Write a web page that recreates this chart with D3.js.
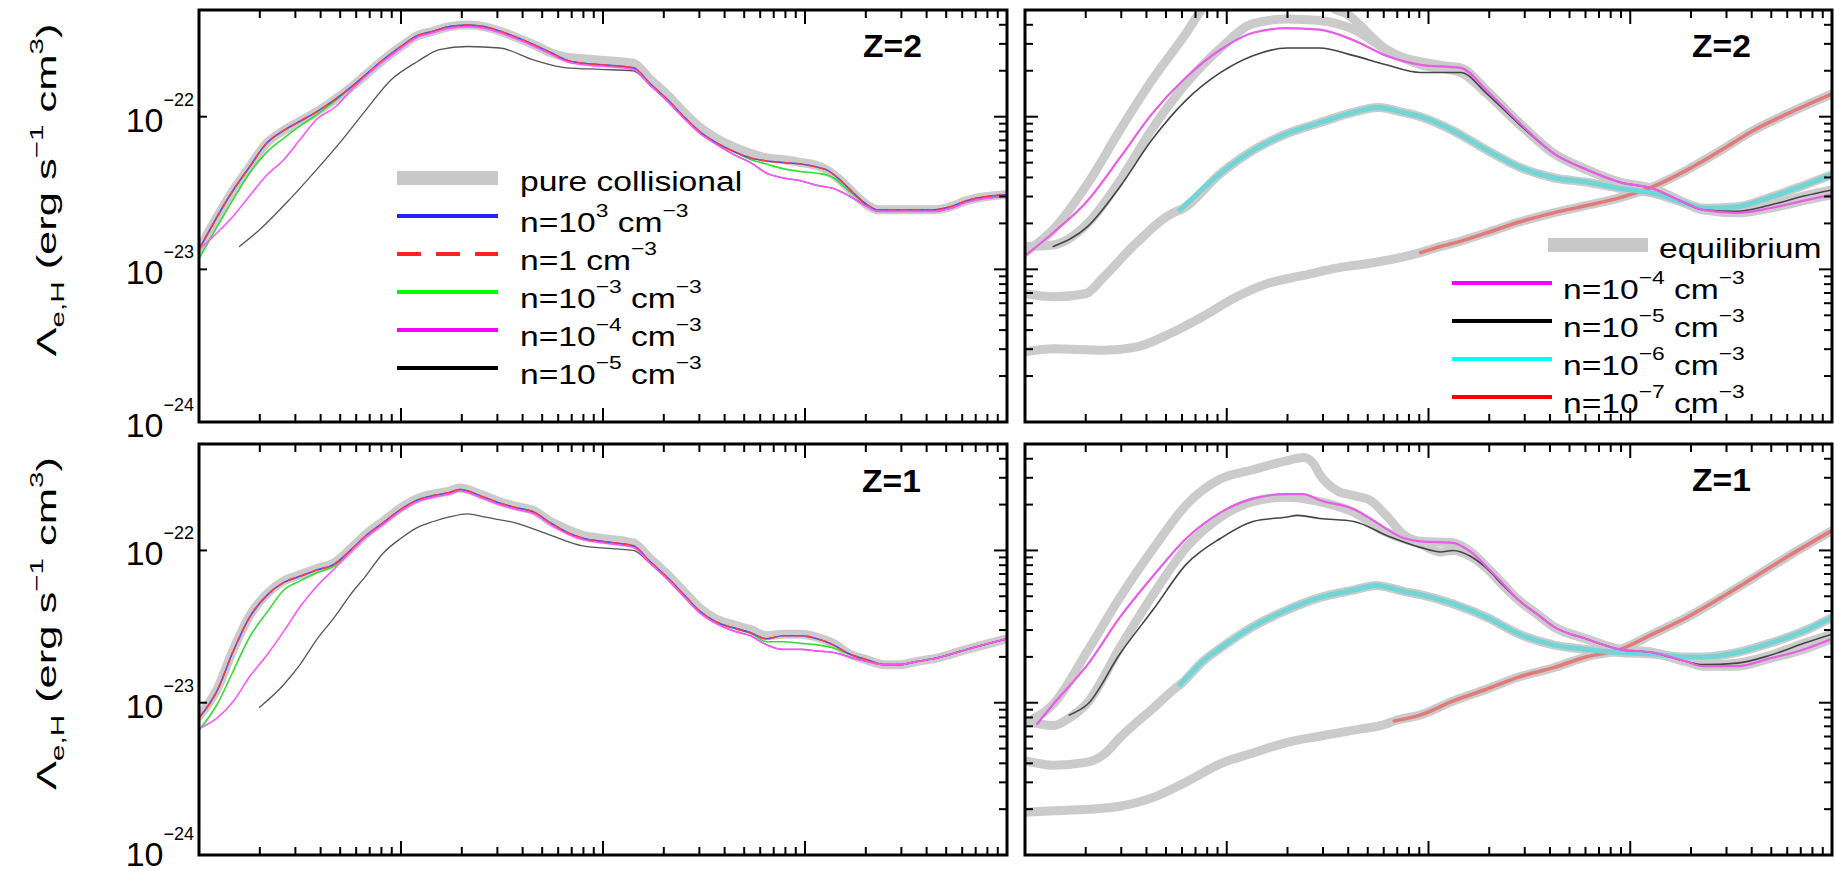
<!DOCTYPE html>
<html><head><meta charset="utf-8">
<script src="https://cdn.jsdelivr.net/npm/d3@7"></script>
<style>
body{margin:0;background:#fff}
svg{display:block}
text{font-family:"Liberation Sans",Arial,Helvetica,sans-serif;fill:#000;white-space:pre}
</style>
</head><body>
<svg id="c" width="1835" height="872"></svg>
<script>
// ---------------- DATA: [log10 T, log10 Lambda] ----------------
const X_DOMAIN = [1e4, 1e8];
const Y_DOMAIN = [1e-24, 5e-22];
const Y_TICK_LABELS = [-22, -23, -24];

// Z=2, left panel
const L2_pure = [[4.00,-22.87],[4.17,-22.48],[4.25,-22.33],[4.33,-22.18],[4.42,-22.09],[4.50,-22.03],[4.58,-21.97],[4.66,-21.90],[4.75,-21.81],[4.83,-21.72],[4.91,-21.63],[5.00,-21.54],[5.08,-21.47],[5.16,-21.44],[5.24,-21.41],[5.33,-21.40],[5.41,-21.41],[5.49,-21.44],[5.57,-21.48],[5.66,-21.53],[5.74,-21.58],[5.82,-21.61],[5.90,-21.62],[5.99,-21.63],[6.15,-21.65],[6.23,-21.75],[6.32,-21.86],[6.40,-21.97],[6.48,-22.07],[6.56,-22.14],[6.65,-22.20],[6.73,-22.24],[6.81,-22.27],[6.89,-22.28],[6.98,-22.30],[7.06,-22.32],[7.11,-22.35],[7.17,-22.41],[7.24,-22.50],[7.31,-22.58],[7.36,-22.61],[7.47,-22.61],[7.64,-22.61],[7.72,-22.59],[7.80,-22.55],[8.00,-22.51]];
const L2_n1e3 = [[4.00,-22.87],[4.17,-22.48],[4.25,-22.33],[4.33,-22.18],[4.42,-22.09],[4.50,-22.03],[4.58,-21.97],[4.66,-21.90],[4.75,-21.81],[4.83,-21.72],[4.91,-21.63],[5.00,-21.54],[5.08,-21.47],[5.16,-21.44],[5.24,-21.41],[5.33,-21.40],[5.41,-21.41],[5.49,-21.44],[5.57,-21.48],[5.66,-21.53],[5.74,-21.58],[5.82,-21.63],[5.90,-21.65],[5.99,-21.66],[6.15,-21.68],[6.23,-21.78],[6.32,-21.89],[6.40,-22.00],[6.48,-22.10],[6.56,-22.17],[6.65,-22.23],[6.73,-22.27],[6.81,-22.29],[6.89,-22.30],[6.98,-22.31],[7.06,-22.33],[7.11,-22.35],[7.17,-22.41],[7.24,-22.50],[7.31,-22.58],[7.36,-22.61],[7.47,-22.61],[7.64,-22.61],[7.72,-22.59],[7.80,-22.55],[8.00,-22.51]];
const L2_n1 = L2_n1e3;
const L2_n1em3 = [[4.00,-22.93],[4.17,-22.54],[4.25,-22.37],[4.33,-22.24],[4.42,-22.14],[4.50,-22.06],[4.58,-21.99],[4.66,-21.91],[4.75,-21.81],[4.83,-21.72],[4.91,-21.63],[5.00,-21.54],[5.08,-21.47],[5.16,-21.44],[5.24,-21.41],[5.33,-21.40],[5.41,-21.41],[5.49,-21.44],[5.57,-21.48],[5.66,-21.53],[5.74,-21.58],[5.82,-21.63],[5.90,-21.65],[5.99,-21.66],[6.15,-21.68],[6.23,-21.78],[6.32,-21.89],[6.40,-22.00],[6.48,-22.10],[6.56,-22.17],[6.65,-22.23],[6.73,-22.28],[6.81,-22.31],[6.89,-22.34],[6.98,-22.36],[7.06,-22.37],[7.14,-22.40],[7.22,-22.49],[7.31,-22.58],[7.36,-22.61],[7.47,-22.61],[7.64,-22.61],[7.72,-22.59],[7.80,-22.55],[8.00,-22.51]];
const L2_n1em4 = [[4.00,-22.87],[4.09,-22.76],[4.17,-22.65],[4.25,-22.52],[4.33,-22.39],[4.42,-22.28],[4.50,-22.15],[4.58,-22.02],[4.68,-21.93],[4.75,-21.83],[4.83,-21.73],[4.91,-21.64],[5.00,-21.55],[5.08,-21.48],[5.16,-21.45],[5.24,-21.42],[5.33,-21.41],[5.41,-21.42],[5.49,-21.45],[5.57,-21.49],[5.66,-21.54],[5.74,-21.59],[5.82,-21.64],[5.90,-21.66],[5.99,-21.67],[6.15,-21.69],[6.23,-21.79],[6.32,-21.90],[6.40,-22.01],[6.48,-22.11],[6.56,-22.18],[6.65,-22.25],[6.73,-22.30],[6.81,-22.37],[6.89,-22.40],[6.98,-22.42],[7.06,-22.45],[7.14,-22.47],[7.22,-22.52],[7.31,-22.59],[7.36,-22.62],[7.47,-22.62],[7.64,-22.62],[7.72,-22.60],[7.80,-22.56],[8.00,-22.52]];
const L2_n1em5 = [[4.20,-22.85],[4.30,-22.74],[4.45,-22.54],[4.58,-22.35],[4.71,-22.15],[4.83,-21.95],[4.95,-21.76],[5.08,-21.64],[5.19,-21.56],[5.33,-21.54],[5.49,-21.55],[5.66,-21.63],[5.82,-21.68],[5.99,-21.69],[6.15,-21.70],[6.23,-21.79],[6.32,-21.90],[6.40,-22.01],[6.48,-22.11],[6.56,-22.18],[6.65,-22.25],[6.73,-22.30],[6.81,-22.37],[6.89,-22.40],[6.98,-22.42],[7.06,-22.45],[7.14,-22.47],[7.22,-22.52],[7.31,-22.59],[7.36,-22.62],[7.47,-22.62],[7.64,-22.62],[7.72,-22.60],[7.80,-22.56],[8.00,-22.52]];

// Z=2, right panel
const R2_n1em4 = [[4.00,-22.91],[4.14,-22.76],[4.31,-22.55],[4.47,-22.27],[4.63,-21.98],[4.80,-21.74],[4.97,-21.56],[5.13,-21.45],[5.30,-21.42],[5.46,-21.43],[5.63,-21.50],[5.79,-21.60],[5.96,-21.66],[6.16,-21.68],[6.29,-21.83],[6.45,-22.04],[6.62,-22.24],[6.79,-22.35],[6.95,-22.43],[7.11,-22.47],[7.28,-22.57],[7.36,-22.61],[7.53,-22.63],[7.69,-22.60],[7.86,-22.55],[8.00,-22.51]];
const R2_n1em5 = [[4.14,-22.85],[4.31,-22.72],[4.47,-22.46],[4.63,-22.15],[4.80,-21.89],[4.97,-21.71],[5.13,-21.60],[5.30,-21.55],[5.46,-21.55],[5.63,-21.60],[5.79,-21.66],[5.96,-21.71],[6.16,-21.71],[6.29,-21.85],[6.45,-22.05],[6.62,-22.24],[6.79,-22.35],[6.95,-22.43],[7.11,-22.47],[7.28,-22.57],[7.36,-22.61],[7.53,-22.62],[7.69,-22.58],[7.86,-22.52],[8.00,-22.48]];
const R2_n1em6 = [[4.77,-22.61],[4.97,-22.37],[5.13,-22.22],[5.30,-22.11],[5.46,-22.04],[5.63,-21.97],[5.75,-21.94],[5.87,-21.97],[5.96,-22.00],[6.12,-22.09],[6.29,-22.22],[6.45,-22.33],[6.62,-22.40],[6.79,-22.43],[6.95,-22.47],[7.11,-22.50],[7.28,-22.57],[7.36,-22.60],[7.53,-22.59],[7.69,-22.53],[7.86,-22.45],[8.00,-22.38]];
const R2_n1em7 = [[5.96,-22.89],[6.06,-22.85],[6.12,-22.83],[6.29,-22.76],[6.45,-22.69],[6.62,-22.63],[6.79,-22.58],[6.95,-22.53],[7.11,-22.46],[7.28,-22.35],[7.45,-22.22],[7.61,-22.09],[7.78,-21.98],[8.00,-21.85]];
const R2_eq4 = [[4.00,-22.89],[4.14,-22.74],[4.31,-22.44],[4.47,-22.09],[4.63,-21.76],[4.80,-21.45],[4.89,-21.27],[5.05,-21.05],[5.25,-20.95],[5.40,-21.05],[5.53,-21.29],[5.60,-21.33],[5.66,-21.40],[5.72,-21.48],[5.79,-21.56],[5.87,-21.61],[5.96,-21.64],[6.10,-21.67]];
const R2_eq5 = [[4.00,-22.85],[4.14,-22.84],[4.31,-22.70],[4.47,-22.42],[4.63,-22.08],[4.80,-21.78],[4.97,-21.55],[5.13,-21.39],[5.30,-21.36],[5.46,-21.37],[5.63,-21.43],[5.79,-21.56],[5.96,-21.66],[6.16,-21.71]];
const R2_eq6 = [[4.00,-23.16],[4.14,-23.18],[4.30,-23.16],[4.39,-23.05],[4.55,-22.83],[4.75,-22.62]];
const R2_eq7 = [[4.00,-23.54],[4.14,-23.52],[4.39,-23.53],[4.55,-23.51],[4.72,-23.42],[4.88,-23.31],[5.05,-23.18],[5.21,-23.09],[5.38,-23.04],[5.55,-22.99],[5.71,-22.96],[5.87,-22.92],[5.96,-22.89]];

// Z=1, left panel
const L1_n1e3 = [[4.00,-23.10],[4.09,-22.92],[4.17,-22.66],[4.25,-22.44],[4.34,-22.29],[4.42,-22.21],[4.50,-22.17],[4.58,-22.13],[4.67,-22.09],[4.75,-22.00],[4.83,-21.90],[4.91,-21.82],[5.00,-21.73],[5.08,-21.67],[5.16,-21.64],[5.24,-21.62],[5.29,-21.60],[5.41,-21.65],[5.49,-21.69],[5.57,-21.72],[5.66,-21.75],[5.74,-21.82],[5.82,-21.88],[5.90,-21.92],[5.99,-21.94],[6.15,-21.97],[6.23,-22.07],[6.32,-22.18],[6.40,-22.29],[6.48,-22.40],[6.56,-22.47],[6.65,-22.51],[6.73,-22.54],[6.81,-22.58],[6.89,-22.56],[6.98,-22.56],[7.06,-22.58],[7.14,-22.62],[7.22,-22.68],[7.31,-22.72],[7.39,-22.75],[7.47,-22.75],[7.55,-22.73],[7.64,-22.71],[7.80,-22.65],[8.00,-22.58]];
const L1_pure = [[4.00,-23.09],[4.09,-22.91],[4.17,-22.65],[4.25,-22.43],[4.34,-22.28],[4.42,-22.20],[4.50,-22.16],[4.58,-22.12],[4.67,-22.08],[4.75,-21.99],[4.83,-21.89],[4.91,-21.81],[5.00,-21.72],[5.08,-21.66],[5.16,-21.63],[5.24,-21.61],[5.29,-21.59],[5.41,-21.64],[5.49,-21.68],[5.57,-21.71],[5.66,-21.74],[5.74,-21.81],[5.82,-21.86],[5.90,-21.90],[5.99,-21.92],[6.15,-21.95],[6.23,-22.05],[6.32,-22.16],[6.40,-22.27],[6.48,-22.38],[6.56,-22.45],[6.65,-22.49],[6.73,-22.52],[6.81,-22.56],[6.89,-22.55],[6.98,-22.55],[7.06,-22.57],[7.14,-22.61],[7.22,-22.68],[7.31,-22.72],[7.39,-22.75],[7.47,-22.75],[7.55,-22.73],[7.64,-22.71],[7.80,-22.65],[8.00,-22.58]];
const L1_n1 = L1_n1e3;
const L1_n1em3 = [[4.00,-23.18],[4.09,-23.01],[4.17,-22.79],[4.25,-22.57],[4.34,-22.40],[4.42,-22.26],[4.50,-22.20],[4.58,-22.15],[4.67,-22.10],[4.75,-22.00],[4.83,-21.90],[4.91,-21.82],[5.00,-21.73],[5.08,-21.67],[5.16,-21.64],[5.24,-21.62],[5.29,-21.60],[5.41,-21.65],[5.49,-21.69],[5.57,-21.72],[5.66,-21.75],[5.74,-21.82],[5.82,-21.88],[5.90,-21.92],[5.99,-21.94],[6.15,-21.97],[6.23,-22.07],[6.32,-22.18],[6.40,-22.29],[6.48,-22.40],[6.56,-22.47],[6.65,-22.51],[6.73,-22.54],[6.81,-22.60],[6.89,-22.60],[6.98,-22.61],[7.06,-22.62],[7.14,-22.64],[7.22,-22.68],[7.31,-22.72],[7.39,-22.75],[7.47,-22.75],[7.55,-22.73],[7.64,-22.71],[7.80,-22.65],[8.00,-22.58]];
const L1_n1em4 = [[4.00,-23.17],[4.09,-23.10],[4.17,-22.99],[4.25,-22.83],[4.34,-22.68],[4.42,-22.53],[4.50,-22.37],[4.58,-22.24],[4.67,-22.12],[4.75,-22.01],[4.83,-21.91],[4.91,-21.83],[5.00,-21.74],[5.08,-21.68],[5.16,-21.65],[5.24,-21.63],[5.29,-21.61],[5.41,-21.66],[5.49,-21.70],[5.57,-21.73],[5.66,-21.76],[5.74,-21.83],[5.82,-21.89],[5.90,-21.93],[5.99,-21.95],[6.15,-21.98],[6.23,-22.08],[6.32,-22.19],[6.40,-22.30],[6.48,-22.41],[6.56,-22.48],[6.65,-22.53],[6.73,-22.56],[6.81,-22.62],[6.89,-22.65],[6.98,-22.65],[7.06,-22.66],[7.14,-22.67],[7.22,-22.70],[7.31,-22.73],[7.39,-22.75],[7.47,-22.75],[7.55,-22.73],[7.64,-22.71],[7.80,-22.65],[8.00,-22.58]];
const L1_n1em5 = [[4.30,-23.03],[4.42,-22.88],[4.50,-22.75],[4.58,-22.59],[4.67,-22.44],[4.75,-22.29],[4.83,-22.16],[4.91,-22.02],[5.00,-21.92],[5.08,-21.85],[5.16,-21.81],[5.24,-21.78],[5.33,-21.76],[5.41,-21.78],[5.57,-21.82],[5.74,-21.90],[5.90,-21.97],[6.07,-21.99],[6.15,-22.00],[6.23,-22.08],[6.32,-22.19],[6.40,-22.30],[6.48,-22.41],[6.56,-22.48],[6.65,-22.53],[6.73,-22.56],[6.81,-22.62],[6.89,-22.65],[6.98,-22.65],[7.06,-22.66],[7.14,-22.67],[7.22,-22.70],[7.31,-22.73],[7.39,-22.75],[7.47,-22.75],[7.55,-22.73],[7.64,-22.71],[7.80,-22.65],[8.00,-22.58]];

// Z=1, right panel
const R1_n1em4 = [[4.06,-23.14],[4.14,-23.01],[4.31,-22.75],[4.47,-22.44],[4.64,-22.16],[4.80,-21.92],[4.97,-21.75],[5.13,-21.66],[5.30,-21.63],[5.38,-21.63],[5.46,-21.67],[5.63,-21.73],[5.71,-21.79],[5.88,-21.92],[5.96,-21.94],[6.12,-21.95],[6.21,-22.01],[6.29,-22.11],[6.37,-22.22],[6.45,-22.33],[6.54,-22.42],[6.62,-22.50],[6.78,-22.58],[6.95,-22.65],[7.11,-22.67],[7.28,-22.73],[7.36,-22.76],[7.53,-22.76],[7.69,-22.71],[7.86,-22.65],[8.00,-22.58]];
const R1_n1em5 = [[4.22,-23.08],[4.31,-23.01],[4.47,-22.68],[4.64,-22.38],[4.80,-22.09],[4.97,-21.92],[5.13,-21.81],[5.30,-21.78],[5.35,-21.77],[5.46,-21.79],[5.63,-21.81],[5.79,-21.90],[5.96,-21.98],[6.06,-22.01],[6.12,-22.00],[6.21,-22.04],[6.29,-22.12],[6.37,-22.23],[6.45,-22.33],[6.54,-22.42],[6.62,-22.50],[6.78,-22.58],[6.95,-22.65],[7.11,-22.67],[7.28,-22.73],[7.36,-22.75],[7.53,-22.74],[7.69,-22.69],[7.86,-22.61],[8.00,-22.55]];
const R1_n1em6 = [[4.77,-22.88],[4.88,-22.73],[4.97,-22.64],[5.13,-22.50],[5.30,-22.39],[5.46,-22.31],[5.63,-22.26],[5.74,-22.23],[5.88,-22.27],[5.96,-22.29],[6.12,-22.35],[6.29,-22.44],[6.45,-22.55],[6.62,-22.62],[6.78,-22.65],[6.95,-22.67],[7.11,-22.68],[7.28,-22.70],[7.36,-22.70],[7.53,-22.67],[7.69,-22.61],[7.86,-22.53],[8.00,-22.44]];
const R1_n1em7 = [[5.83,-23.12],[5.96,-23.08],[6.12,-22.99],[6.29,-22.91],[6.45,-22.83],[6.62,-22.77],[6.78,-22.70],[6.95,-22.65],[7.11,-22.55],[7.28,-22.44],[7.45,-22.31],[7.61,-22.18],[7.78,-22.04],[8.00,-21.87]];
const R1_eq4 = [[4.00,-23.13],[4.14,-23.01],[4.31,-22.66],[4.47,-22.31],[4.64,-21.98],[4.80,-21.70],[4.97,-21.53],[5.13,-21.47],[5.30,-21.41],[5.38,-21.39],[5.43,-21.43],[5.46,-21.50],[5.55,-21.61],[5.63,-21.64],[5.71,-21.67],[5.79,-21.77],[5.88,-21.90]];
const R1_eq5 = [[4.00,-23.12],[4.14,-23.15],[4.22,-23.10],[4.31,-23.00],[4.47,-22.64],[4.64,-22.28],[4.80,-21.98],[4.97,-21.78],[5.13,-21.68],[5.30,-21.65],[5.46,-21.68],[5.63,-21.75],[5.79,-21.88],[5.96,-21.96]];
const R1_eq6 = [[4.00,-23.38],[4.14,-23.41],[4.31,-23.39],[4.39,-23.34],[4.47,-23.23],[4.64,-23.03],[4.75,-22.90]];
const R1_eq7 = [[4.00,-23.72],[4.14,-23.71],[4.31,-23.70],[4.47,-23.68],[4.64,-23.62],[4.80,-23.52],[4.97,-23.40],[5.13,-23.33],[5.30,-23.26],[5.46,-23.22],[5.63,-23.18],[5.79,-23.14]];

const LEFT_LEGEND = [
  {parts:["pure collisional"], kind:"gray"},
  {parts:["n=10",{t:"3",sup:1}," cm",{t:"−3",sup:1}], color:"#2222ff"},
  {parts:["n=1 cm",{t:"−3",sup:1}], color:"#ff2222", dash:"24,15"},
  {parts:["n=10",{t:"−3",sup:1}," cm",{t:"−3",sup:1}], color:"#00ff00"},
  {parts:["n=10",{t:"−4",sup:1}," cm",{t:"−3",sup:1}], color:"#ff00ff"},
  {parts:["n=10",{t:"−5",sup:1}," cm",{t:"−3",sup:1}], color:"#000000"}
];
const RIGHT_LEGEND = [
  {parts:["equilibrium"], kind:"gray"},
  {parts:["n=10",{t:"−4",sup:1}," cm",{t:"−3",sup:1}], color:"#ff00ff"},
  {parts:["n=10",{t:"−5",sup:1}," cm",{t:"−3",sup:1}], color:"#000000"},
  {parts:["n=10",{t:"−6",sup:1}," cm",{t:"−3",sup:1}], color:"#00ffff"},
  {parts:["n=10",{t:"−7",sup:1}," cm",{t:"−3",sup:1}], color:"#ff0000"}
];

// ---------------- DRAWING ----------------
const svg = d3.select("#c");
const GRAY = "#cbcbcb";

function joinEq(low, col){ const last = low[low.length-1][0]; return low.concat(col.filter(d => d[0] > last)); }

function leftSeries(pure, n1e3, n1, nm3, nm4, nm5){
  return [
    {d:pure, c:GRAY, w:9},
    {d:nm5, c:"#555", w:1.3},
    {d:nm3, c:"#33dd33", w:1.6},
    {d:n1e3, c:"#4a4aff", w:1.6},
    {d:n1, c:"#ff3a3a", w:1.6, dash:"7,5"},
    {d:nm4, c:"#ff55ff", w:1.6}
  ];
}
function rightSeries(e4,e5,e6,e7,m4,m5,m6,m7){
  return [
    {d:joinEq(e7,m7), c:GRAY, w:9},
    {d:joinEq(e6,m6), c:GRAY, w:9},
    {d:joinEq(e5,m5), c:GRAY, w:9},
    {d:joinEq(e4,m4), c:GRAY, w:9},
    {d:m7, c:"#e27a7a", w:3.5},
    {d:m6, c:"#72d5d5", w:5},
    {d:m5, c:"#444", w:1.6},
    {d:m4, c:"#e85ce8", w:2.2}
  ];
}

const panels = [
  {x0:199, x1:1007, y0:10, y1:422, leftCol:true, z:"Z=2", zx:863, zy:57,
   series:leftSeries(L2_pure,L2_n1e3,L2_n1,L2_n1em3,L2_n1em4,L2_n1em5),
   legend:{items:LEFT_LEGEND, sx0:397, sx1:498, tx:520, y:178, dy:38}},
  {x0:1025, x1:1832, y0:10, y1:422, leftCol:false, z:"Z=2", zx:1692, zy:57,
   series:rightSeries(R2_eq4,R2_eq5,R2_eq6,R2_eq7,R2_n1em4,R2_n1em5,R2_n1em6,R2_n1em7),
   legend:{items:RIGHT_LEGEND, sx0:1452, sx1:1552, tx:1563, y:245, dy:38, firstShift:96}},
  {x0:199, x1:1007, y0:444, y1:855, leftCol:true, z:"Z=1", zx:862, zy:492,
   series:leftSeries(L1_pure,L1_n1e3,L1_n1,L1_n1em3,L1_n1em4,L1_n1em5)},
  {x0:1025, x1:1832, y0:444, y1:855, leftCol:false, z:"Z=1", zx:1692, zy:491,
   series:rightSeries(R1_eq4,R1_eq5,R1_eq6,R1_eq7,R1_n1em4,R1_n1em5,R1_n1em6,R1_n1em7)}
];

function rich(parent, x, y, parts, o){
  o = Object.assign({size:28, supSize:20, raise:17, subDrop:8, anchor:"start", sx:1, weight:"normal", rotate:0}, o||{});
  const g = parent.append("g").attr("transform", `translate(${x},${y})` + (o.rotate?` rotate(${o.rotate})`:""));
  const t = g.append("text").attr("font-size", o.size).attr("text-anchor", o.anchor)
    .attr("font-weight", o.weight).attr("xml:space","preserve");
  let cur = 0;
  parts.forEach(p => {
    const s = typeof p === "string" ? {t:p} : p;
    const target = s.sup ? -o.raise : (s.sub ? o.subDrop : 0);
    t.append("tspan").attr("dy", target - cur).attr("font-size", (s.sup||s.sub) ? o.supSize : o.size).text(s.t);
    cur = target;
  });
  let sx = o.sx;
  if (o.targetLen) sx = o.targetLen / t.node().getComputedTextLength();
  t.attr("transform", `scale(${sx},1)`);
  return t;
}

let clipId = 0;
panels.forEach(p => {
  const x = d3.scaleLog().domain(X_DOMAIN).range([p.x0, p.x1]);
  const y = d3.scaleLog().domain(Y_DOMAIN).range([p.y1, p.y0]);
  const id = "clip" + (clipId++);
  svg.append("clipPath").attr("id", id).append("rect")
    .attr("x", p.x0).attr("y", p.y0).attr("width", p.x1 - p.x0).attr("height", p.y1 - p.y0);
  const line = d3.line().x(d => x(Math.pow(10, d[0]))).y(d => y(Math.pow(10, d[1]))).curve(d3.curveMonotoneX);
  const gl = svg.append("g").attr("clip-path", `url(#${id})`);
  p.series.forEach(s => {
    gl.append("path").attr("d", line(s.d)).attr("fill","none").attr("stroke", s.c)
      .attr("stroke-width", s.w).attr("stroke-linejoin","round").attr("stroke-linecap","round")
      .attr("stroke-dasharray", s.dash || null);
  });

  // ticks
  const gt = svg.append("g").attr("stroke","#000").attr("stroke-width",2);
  const isMajor = v => Math.abs(Math.log10(v) - Math.round(Math.log10(v))) < 1e-6;
  x.ticks().forEach(v => {
    const px = x(v);
    if (px <= p.x0 + 1 || px >= p.x1 - 1) return;
    const L = isMajor(v) ? 14 : 8;
    gt.append("line").attr("x1",px).attr("x2",px).attr("y1",p.y1).attr("y2",p.y1 - L);
    gt.append("line").attr("x1",px).attr("x2",px).attr("y1",p.y0).attr("y2",p.y0 + L);
  });
  y.ticks().forEach(v => {
    const py = y(v);
    if (py <= p.y0 + 1 || py >= p.y1 - 1) return;
    const maj = isMajor(v);
    const L = maj ? 13 : 8;
    gt.append("line").attr("x1",p.x1).attr("x2",p.x1 - L).attr("y1",py).attr("y2",py);
    if (!p.leftCol) gt.append("line").attr("x1",p.x0).attr("x2",p.x0 + L).attr("y1",py).attr("y2",py);
    else if (maj) gt.append("line").attr("x1",p.x0).attr("x2",p.x0 + 8).attr("y1",py).attr("y2",py);
  });

  // frame
  svg.append("rect").attr("x",p.x0).attr("y",p.y0).attr("width",p.x1-p.x0).attr("height",p.y1-p.y0)
    .attr("fill","none").attr("stroke","#000").attr("stroke-width",3);

  // Z label
  rich(svg, p.zx, p.zy, [p.z], {size:32, weight:"bold", sx:1.05});

  // y tick labels + title for left column
  if (p.leftCol) {
    Y_TICK_LABELS.forEach(e => {
      const py = y(Math.pow(10, e));
      const off = (e === -24 && p.y1 > 800) ? 11 : 15;
      rich(svg, 194, py + off, ["10", {t:"−" + String(-e), sup:1}], {size:34, supSize:18, raise:26, anchor:"end"});
    });
    const cy = (p.y0 + p.y1) / 2 - 26;
    rich(svg, 56, cy, ["Λ", {t:"e,H", sub:1}, " (erg s", {t:"−1", sup:1}, " cm", {t:"3", sup:1}, ")"],
      {size:28, supSize:19, raise:13, subDrop:8, anchor:"middle", rotate:-90, targetLen:333});
  }

  // legend
  if (p.legend) {
    const L = p.legend;
    let yy = L.y;
    L.items.forEach((it, i) => {
      const shift = (i === 0 && L.firstShift) ? L.firstShift : 0;
      if (it.kind === "gray") {
        svg.append("rect").attr("x", L.sx0 + shift).attr("y", yy - 7).attr("width", L.sx1 - L.sx0).attr("height", 14).attr("fill", "#c8c8c8");
      } else {
        svg.append("line").attr("x1", L.sx0).attr("x2", L.sx1).attr("y1", yy).attr("y2", yy)
          .attr("stroke", it.color).attr("stroke-width", 4).attr("stroke-dasharray", it.dash || null);
      }
      rich(svg, L.tx + shift, yy + (it.kind === "gray" ? 13 : 16), it.parts, {size:28, supSize:19, raise:15, sx:1.2});
      yy += L.dy;
    });
  }
});
</script>
</body></html>
